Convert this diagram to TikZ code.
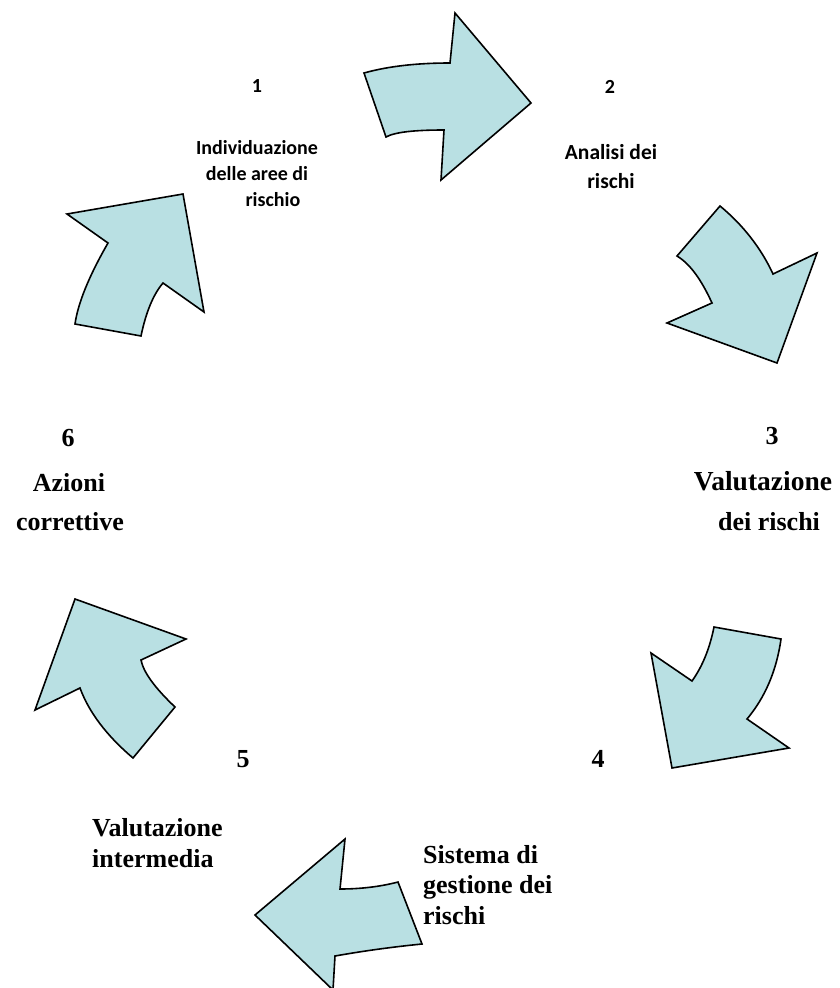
\documentclass[tikz,border=0pt]{standalone}
\usepackage{fontspec}
\setmainfont{Liberation Serif}
\newfontfamily\calfont{Carlito}
\definecolor{arrowfill}{RGB}{185,224,227}
\begin{document}
\begin{tikzpicture}[x=1pt,y=-1pt,
  cyc/.style={draw=black, fill=arrowfill, line width=1.6pt, line join=miter},
  sanslbl/.style={font=\calfont\bfseries\fontsize{20}{26}\selectfont, inner sep=0pt},
  seriflbl/.style={font=\bfseries\fontsize{26}{30.5}\selectfont, inner sep=0pt},
]
\useasboundingbox (0,0) rectangle (839,988);
% arrow 1 (top, pointing right)
\draw[cyc] (364,73) .. controls (389,66) and (418,63) .. (450,63) -- (455,13) -- (531,103)
  -- (441,180) -- (444,130) .. controls (415,130) and (395,132) .. (386,137) -- cycle;
% arrow 2 (pointing down-right)
\draw[cyc] (720,206) .. controls (743,225) and (761,248) .. (773,274) -- (817,253) -- (777,363)
  -- (667,323) -- (712,303) .. controls (701,279) and (690,264) .. (677,256) -- cycle;
% arrow 3 (pointing down-left)
\draw[cyc] (714,627) -- (781,639) .. controls (776.5,671) and (765,697.5) .. (747,719) -- (789,748)
  -- (672,768) -- (651,653) -- (692,681) .. controls (702,667) and (709.5,649.4) .. cycle;
% arrow 4 (bottom, pointing left)
\draw[cyc] (345,839) -- (340,889) .. controls (359,889) and (379,887) .. (398,882) -- (422,944)
  .. controls (392,947) and (363,951) .. (335,956) -- (333,990) -- (255,915) -- cycle;
% arrow 5 (pointing up-left)
\draw[cyc] (75,599) -- (186,639) -- (141,660) .. controls (143.5,672.5) and (155,688) .. (175,707)
  -- (133,758) .. controls (106.7,735.7) and (89,712.4) .. (80,688) -- (35,710) -- cycle;
% arrow 6 (pointing up-right)
\draw[cyc] (67,214) -- (183,194) -- (204,312) -- (163,283) .. controls (153.4,294.2) and (146,312) .. (141,336)
  -- (75,324) .. controls (78,303) and (89,276) .. (108,243) -- cycle;

% labels
\node[sanslbl, anchor=base] (n1) at (257,92) {1};
\node[sanslbl, anchor=base, align=center] (t1) at (257,206) {Individuazione\\delle aree di\\\hspace*{1.6em}rischio};
\node[sanslbl, anchor=base] (n2) at (610,93) {2};
\node[sanslbl, anchor=base, align=center, font=\calfont\bfseries\fontsize{21.5}{29}\selectfont] (t2) at (611,188) {Analisi dei\\rischi};

\node[seriflbl, anchor=base] (n3) at (772,444) {3};
\node[seriflbl, anchor=base, font=\bfseries\fontsize{27.5}{30}\selectfont] (t3a) at (763,490) {Valutazione};
\node[seriflbl, anchor=base] (t3b) at (769,530) {dei rischi};

\node[seriflbl, anchor=base] (n4) at (598,767) {4};
\node[seriflbl, anchor=base west, align=left] (t4) at (423,924) {Sistema di\\gestione dei\\rischi};

\node[seriflbl, anchor=base] (n5) at (243,767) {5};
\node[seriflbl, anchor=base west, align=left] (t5) at (92,867) {Valutazione\\intermedia};

\node[seriflbl, anchor=base] (n6) at (68,446) {6};
\node[seriflbl, anchor=base] (t6a) at (69,491) {Azioni};
\node[seriflbl, anchor=base] (t6b) at (70,530) {correttive};
\end{tikzpicture}
\end{document}
